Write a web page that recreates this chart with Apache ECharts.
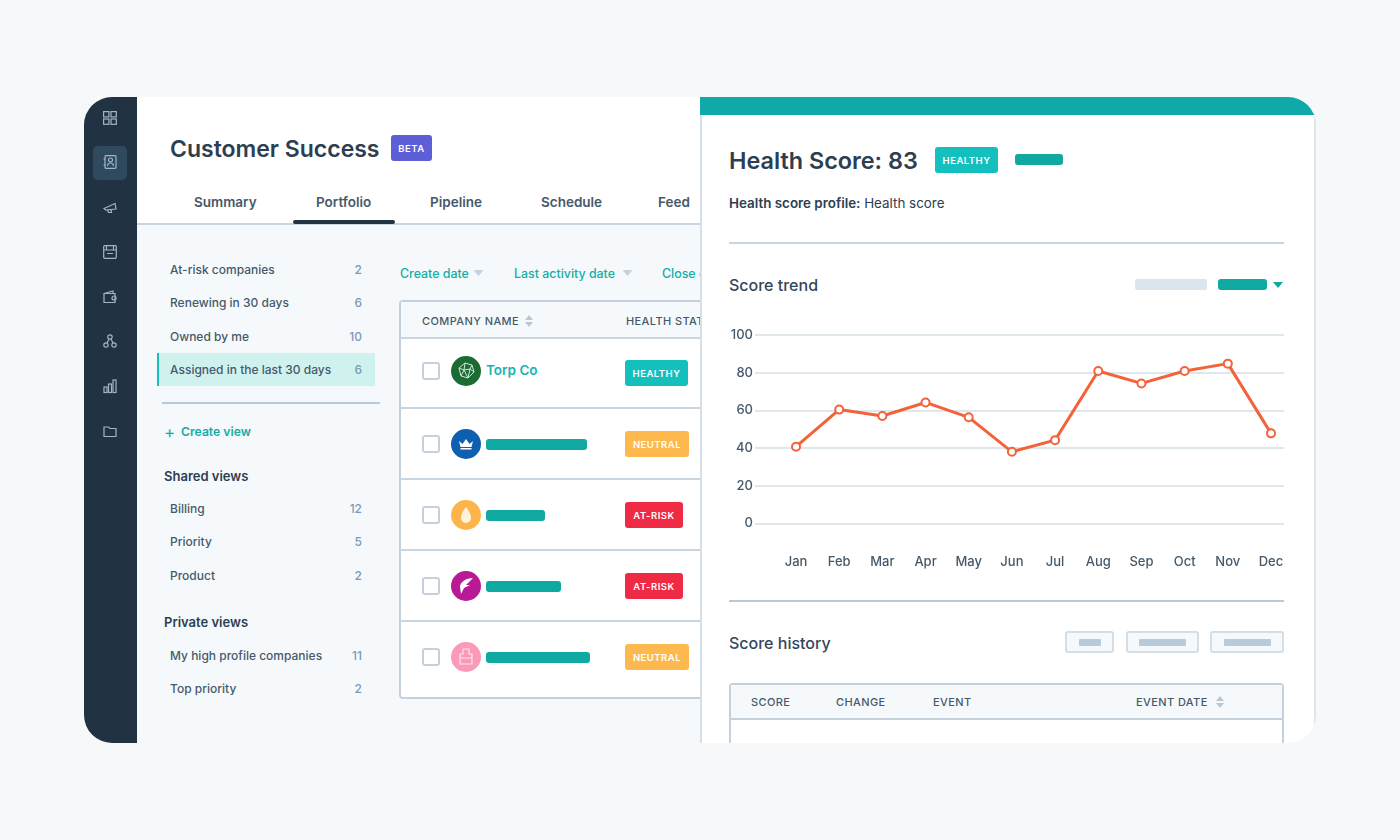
<!DOCTYPE html>
<html>
<head>
<meta charset="utf-8">
<title>Customer Success</title>
<script src="https://cdn.jsdelivr.net/npm/echarts@6/dist/echarts.min.js"></script>
<style>
    html, body { margin: 0; width: 1400px; height: 840px; background: #f6f8fa; overflow: hidden; font-family: Inter, "Noto Sans", sans-serif; color: #33475b; }
    #card { position: absolute; left: 84px; top: 97px; width: 1232px; height: 646px; border-radius: 28px; overflow: hidden; background: #f5f9fc; }
    #page { position: absolute; left: -84px; top: -97px; width: 1400px; height: 840px; }
    .box, .t { position: absolute; box-sizing: border-box; }
    .t { white-space: nowrap; transform: translateY(-50%); line-height: 1; }
    .nav { font-size: 12px; font-weight: 500; color: #46596b; }
    .count { font-size: 12px; font-weight: 500; color: #7c98b6; transform: translate(-100%, -50%); }
    .h3 { font-size: 13px; font-weight: 600; color: #2d3e50; }
    .tab { font-size: 13.5px; font-weight: 600; color: #46596b; }
    .link { font-size: 12.4px; font-weight: 500; color: #14ada6; }
    .th { font-size: 11px; font-weight: 500; color: #46596b; letter-spacing: 0.4px; }
    .badge { color: #fff; font-size: 9.5px; font-weight: 600; letter-spacing: 0.5px; border-radius: 3px; display: flex; align-items: center; justify-content: center; }
    .h2 { font-size: 16px; font-weight: 500; color: #33475b; }
    svg { position: absolute; overflow: visible; }
    #main { position: absolute; left: 700px; top: 300px; width: 616px; height: 300px; }
</style>
</head>
<body>
<div id="card"><div id="page"><div id="chrome"></div><div id="main"></div></div></div>
<script>
// chart data
let months = ['Jan', 'Feb', 'Mar', 'Apr', 'May', 'Jun', 'Jul', 'Aug', 'Sep', 'Oct', 'Nov', 'Dec']
let scores = [40.7, 60.4, 57, 64.2, 56.3, 38, 44.2, 80.9, 74.3, 80.9, 84.8, 47.8]
let yTicks = [0, 20, 40, 60, 80, 100]

// side lists
let topViews = [['At-risk companies', 2, 269.5], ['Renewing in 30 days', 6, 302.5], ['Owned by me', 10, 336.5], ['Assigned in the last 30 days', 6, 369.5]]
let sharedViews = [['Billing', 12, 508.5], ['Priority', 5, 541.5], ['Product', 2, 575.5]]
let privateViews = [['My high profile companies', 11, 655.5], ['Top priority', 2, 688.5]]
let tabs = [['Summary', 194], ['Portfolio', 316], ['Pipeline', 430], ['Schedule', 541], ['Feed', 658]]

let html = ''
function box(x, y, w, h, style) {
    html += `<div class="box" style="left:${x}px;top:${y}px;width:${w}px;height:${h}px;${style}"></div>`
}
function text(x, y, str, cls, style = '') {
    html += `<div class="t ${cls}" style="left:${x}px;top:${y}px;${style}">${str}</div>`
}
function badge(x, y, w, h, str, color) {
    html += `<div class="box badge" style="left:${x}px;top:${y}px;width:${w}px;height:${h}px;background:${color}">${str}</div>`
}
function icon(x, y, inner, stroke = '#a3b6c5') {
    html += `<svg style="left:${x}px;top:${y}px" width="14" height="14" viewBox="0 0 14 14" fill="none" stroke="${stroke}" stroke-width="1.2">${inner}</svg>`
}
function caret(x, y, w, color) {
    html += `<svg style="left:${x}px;top:${y}px" width="${w}" height="6" viewBox="0 0 10 6"><path d="M0 0H10L5 6Z" fill="${color}"/></svg>`
}
function sorter(x, y) {
    html += `<svg style="left:${x}px;top:${y}px" width="8" height="12" viewBox="0 0 8 12"><path d="M0 5L4 0L8 5ZM0 7H8L4 12Z" fill="#b9c8d6"/></svg>`
}

// left rail
box(84, 97, 53, 646, 'background:#213343')
box(93, 146, 34, 34, 'background:#2f4a5e;border-radius:5px')
icon(103, 111, '<rect x="0.6" y="0.6" width="5.3" height="5.3"/><rect x="8" y="0.6" width="5.3" height="5.3"/><rect x="0.6" y="8" width="5.3" height="5.3"/><rect x="8" y="8" width="5.3" height="5.3"/>')
icon(103, 155, '<rect x="2" y="0.7" width="11" height="12.6" rx="1"/><circle cx="7.5" cy="5" r="2"/><path d="M4.5 11c0-4 6-4 6 0M0.5 4h2M0.5 10h2"/>')
icon(103, 200, '<path d="M1 8.5L12 3.5L13 9L2.5 10ZM4.5 10l1 2.5h3l-.6-2.8"/>')
icon(103, 245, '<rect x="0.7" y="0.7" width="12.6" height="12.6" rx="1"/><path d="M0.7 5h12.6M3.5 1v4M10.5 1v4M4 8.5h6"/>')
icon(103, 290, '<path d="M1 3.5h11v9H1zM1 3.5L10 1v2.5"/><circle cx="11" cy="8" r="2"/>')
icon(103, 334, '<circle cx="7" cy="3" r="2.2"/><circle cx="3" cy="11" r="2.2"/><circle cx="11" cy="11" r="2.2"/><path d="M6 5L4 9M8 5l2 4"/>')
icon(103, 379, '<rect x="1" y="8" width="3" height="5.5"/><rect x="5.5" y="5" width="3" height="8.5"/><rect x="10" y="1" width="3" height="12.5"/>')
icon(103, 424, '<path d="M1 3h4.5l1.5 1.5h6v8H1z"/>')

// header of the main column
box(137, 97, 563, 127, 'background:#fff')
box(137, 223, 563, 2, 'background:#c9d6e2')
text(170, 149, 'Customer Success', '', 'font-size:23px;font-weight:600;color:#2d3e50')
badge(391, 135, 41, 26, 'BETA', '#5c5fd6')
tabs.forEach(t => text(t[1], 203, t[0], 'tab'))
box(293, 220, 102, 4, 'background:#213343;border-radius:2px')

// saved views
box(157, 353, 218, 33, 'background:#d0f2ef;border-left:2px solid #14c0b8')
topViews.concat(sharedViews, privateViews).forEach(v => {
    text(170, v[2], v[0], 'nav')
    text(362, v[2], v[1], 'count')
})
box(162, 402, 218, 2, 'background:#b9c9d6')
text(164, 431.5, '+', 'link', 'font-size:17px;font-weight:400')
text(181, 432, 'Create view', 'link', 'font-size:12.2px;font-weight:600')
text(164, 475.5, 'Shared views', 'h3')
text(164, 621.5, 'Private views', 'h3')

// filters
text(400, 273.5, 'Create date', 'link')
caret(473, 270, 11, '#c5d2dd')
text(514, 273.5, 'Last activity date', 'link')
caret(622, 270, 11, '#c5d2dd')
text(662, 273.5, 'Close date', 'link')

// company table
box(399, 300, 320, 399, 'background:#fff;border:2px solid #c4d1dd;border-radius:4px')
box(401, 302, 318, 36, 'background:#f5f9fc')
let rowLines = [337, 407, 478, 549, 620]
rowLines.forEach(y => box(400, y, 300, 2, 'background:#c9d6e2'))
text(422, 321, 'COMPANY NAME', 'th')
sorter(525, 315)
text(626, 321, 'HEALTH STATUS', 'th')

let rowCy = [370.5, 444, 515, 586, 657]
let logoColors = ['#1c6b34', '#0e5fb0', '#fdb54b', '#b81a96', '#fb9ab8']
let logoMarks = [
    '<path d="M-7-3L-1-8L6-6L8 1L2 7L-5 5ZM-1-8L-2-1L-7-3M-2-1L-5 5M-2-1L2 7M-2-1L4-2L6-6M4-2L8 1M4-2L2 7" fill="none" stroke="#cfe8d6" stroke-width="1"/>',
    '<path d="M-7-3L-3.5 0L0-5L3.5 0L7-3L5.5 3H-5.5ZM-5.5 4H5.5V5.5H-5.5Z" fill="#fff"/>',
    '<path d="M0-8C4.5-2 5 1 5 3A5 5 0 0 1-5 3C-5 1-4.5-2 0-8Z" fill="#fff3dc"/>',
    '<path d="M7-8C0-8-6-4-6 1L-5 8L-2 2L4-1L0-1L7-8Z" fill="#fff"/>',
    '<path d="M-3-8H3V-3H6V7H-6V-3H-3ZM-6 1H6" fill="none" stroke="#ffe3ec" stroke-width="1.2"/>'
]
let barWidths = [0, 101, 59, 75, 104]
rowCy.forEach((cy, i) => {
    box(422, cy - 9, 18, 18, 'background:#fff;border:2px solid #c4d1dd;border-radius:3px')
    box(451, cy - 15, 30, 30, `background:${logoColors[i]};border-radius:50%`)
    html += `<svg style="left:466px;top:${cy}px" width="1" height="1">${logoMarks[i]}</svg>`
    if (barWidths[i]) box(486, cy - 5.5, barWidths[i], 11, 'background:#10a9a1;border-radius:3px')
})
text(486, 371, 'Torp Co', '', 'font-size:13.5px;font-weight:600;color:#14b5ae')
badge(625, 360, 63, 26, 'HEALTHY', '#14c0bd')
badge(625, 431, 64, 26, 'NEUTRAL', '#fdb94e')
badge(625, 502, 58, 26, 'AT-RISK', '#ee2a45')
badge(625, 573, 58, 26, 'AT-RISK', '#ee2a45')
badge(625, 644, 64, 26, 'NEUTRAL', '#fdb94e')

// score panel
box(700, 97, 616, 646, 'background:#fff;border-left:2px solid #d5e0ea;border-right:2px solid #dce5ec')
box(700, 97, 616, 18, 'background:#0fa9a8')
text(729, 160.5, 'Health Score: 83', '', 'font-size:23.4px;font-weight:600;color:#2d3e50')
badge(935, 147, 63, 26, 'HEALTHY', '#14c0bd')
box(1015, 153.5, 48, 11.5, 'background:#10a9a1;border-radius:3px')
text(729, 204, '<b style="font-weight:600">Health score profile:</b> Health score', '', 'font-size:13.4px;color:#2d3e50')
box(729, 242, 555, 2, 'background:#c9d6df')
text(729, 285, 'Score trend', 'h2')
box(1135, 279, 72, 11, 'background:#dde5ec;border-radius:2px')
box(1218, 279, 49, 11, 'background:#10a9a1;border-radius:3px')
caret(1273, 282, 10, '#10a9a1')
box(729, 600, 555, 2, 'background:#b9cad8')
text(729, 643, 'Score history', 'h2')

let histButtons = [[1065, 49, 22], [1126, 73, 47], [1210, 74, 47]]
histButtons.forEach(b => {
    box(b[0], 631, b[1], 22, 'background:#f5f9fc;border:2px solid #d3dee7;border-radius:3px')
    box(b[0] + (b[1] - b[2]) / 2, 639, b[2], 6.5, 'background:#b9cad8;border-radius:1px')
})
box(729, 683, 555, 80, 'background:#fff;border:2px solid #c4d1dd;border-radius:4px')
box(731, 685, 551, 33, 'background:#f5f9fc')
box(730, 718, 553, 2, 'background:#c4d1dd')
text(751, 702, 'SCORE', 'th')
text(836, 702, 'CHANGE', 'th')
text(933, 702, 'EVENT', 'th')
text(1136, 702, 'EVENT DATE', 'th')
sorter(1216, 696)

document.getElementById('chrome').innerHTML = html

// score trend chart
var myChart = echarts.init(document.getElementById('main'))
let axisText = { color: '#45596b', fontSize: 13, fontWeight: 500, fontFamily: 'Inter, "Noto Sans", sans-serif' }
let option = {
    animation: false,
    // first grid carries the wide gridlines, second one spans Jan to Dec
    grid: [
        { left: 55, width: 529, top: 35, height: 188.4 },
        { left: 96, width: 475, top: 35, height: 188.4 }
    ],
    xAxis: [
        { gridIndex: 0, type: 'value', show: false },
        {
            gridIndex: 1,
            type: 'category',
            data: months,
            boundaryGap: false,
            axisLine: { show: false },
            axisTick: { show: false },
            axisLabel: { ...axisText, margin: 32, interval: 0 }
        }
    ],
    yAxis: [
        {
            gridIndex: 0,
            type: 'value',
            min: yTicks[0],
            max: yTicks[yTicks.length - 1],
            interval: yTicks[1] - yTicks[0],
            axisLine: { show: false },
            axisTick: { show: false },
            axisLabel: { ...axisText, margin: 2 },
            splitLine: { lineStyle: { color: '#d3dfe6', width: 1.5 } }
        },
        { gridIndex: 1, type: 'value', min: yTicks[0], max: yTicks[yTicks.length - 1], show: false }
    ],
    series: [
        {
            name: 'Health score',
            type: 'line',
            xAxisIndex: 1,
            yAxisIndex: 1,
            data: scores,
            symbol: 'circle',
            symbolSize: 8,
            showAllSymbol: true,
            lineStyle: { color: '#f4623a', width: 3 },
            itemStyle: { color: '#fff', borderColor: '#f4623a', borderWidth: 2 }
        }
    ]
}
myChart.setOption(option)
</script>
</body>
</html>
